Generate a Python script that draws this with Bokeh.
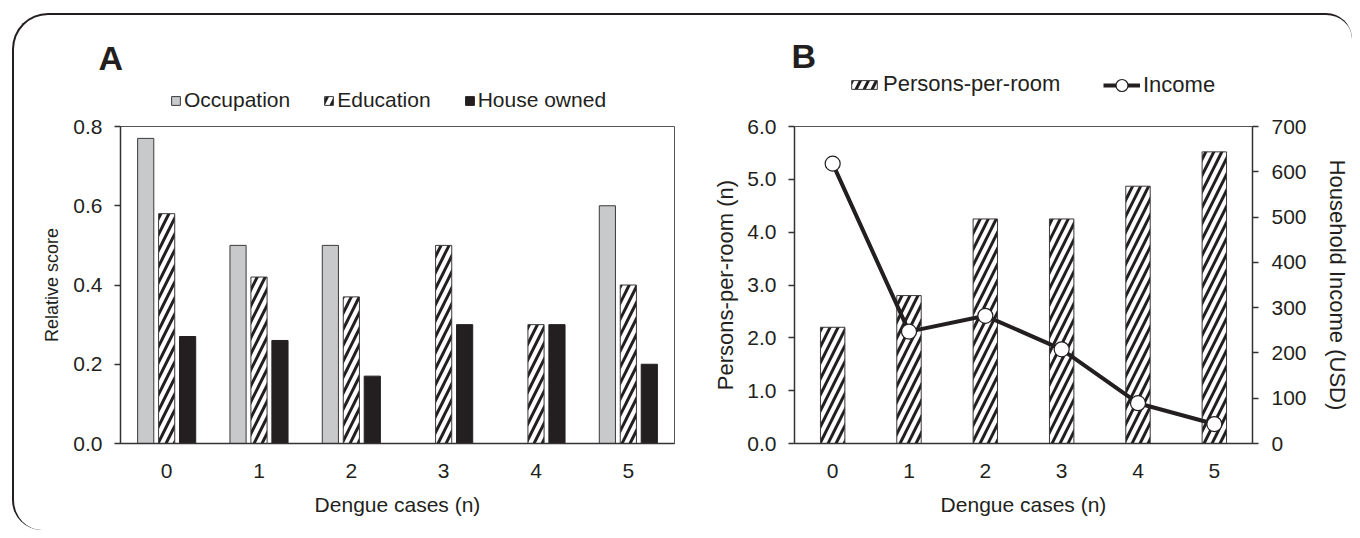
from bokeh.plotting import figure
from bokeh.models import (FactorRange, Range1d, LinearAxis, Legend, LegendItem, Label,
                          NumeralTickFormatter, FixedTicker, ColumnDataSource)
from bokeh.transform import dodge
from bokeh.layouts import row, column
from bokeh.embed import file_html
from bokeh.resources import INLINE

# ---------------- data ----------------
cases = ["0", "1", "2", "3", "4", "5"]
occupation = [0.77, 0.50, 0.50, 0.0, 0.0, 0.60]
education = [0.58, 0.42, 0.37, 0.50, 0.30, 0.40]
house_owned = [0.27, 0.26, 0.17, 0.30, 0.30, 0.20]
persons_per_room = [2.2, 2.8, 4.25, 4.25, 4.87, 5.52]
income = [618, 247, 282, 208, 89, 43]
score_ticks = [0.0, 0.2, 0.4, 0.6, 0.8]
ppr_ticks = [0, 1, 2, 3, 4, 5, 6]
income_ticks = [0, 100, 200, 300, 400, 500, 600, 700]

FONT = "Liberation Sans"
TXT = "#231f20"
AX = "#333333"

OCC = dict(fill_color="#c8c9cb", line_color="#3a3a3a", line_width=1)
EDU = dict(fill_color="white", line_color="#3a3a3a", line_width=1,
           hatch_pattern="/", hatch_color=TXT, hatch_weight=3, hatch_scale=16)
HOU = dict(fill_color=TXT, line_color=TXT, line_width=1)
PPR = dict(fill_color="white", line_color="#3a3a3a", line_width=1,
           hatch_pattern="/", hatch_color=TXT, hatch_weight=3, hatch_scale=16)
INC_LINE = dict(line_color=TXT, line_width=4)
INC_PT = dict(fill_color="white", line_color=TXT, line_width=1.2)


def style_axis(ax, label_size="21px", tick_size="21px"):
    ax.major_label_text_font = FONT
    ax.major_label_text_font_size = tick_size
    ax.major_label_text_color = TXT
    ax.axis_label_text_font = FONT
    ax.axis_label_text_font_size = label_size
    ax.axis_label_text_font_style = "normal"
    ax.axis_label_text_color = TXT
    ax.axis_line_color = AX
    ax.axis_line_width = 1.5
    ax.major_tick_line_color = AX
    ax.major_tick_line_width = 1.5
    ax.major_tick_in = 0
    ax.major_tick_out = 6
    ax.minor_tick_line_color = None


def legend(items, loc, gw, gh, lh, size):
    return Legend(items=items, orientation="horizontal", location=loc,
                  glyph_width=gw, glyph_height=gh, label_standoff=3, spacing=33,
                  padding=0, margin=0, border_line_color=None, background_fill_alpha=0,
                  label_text_font=FONT, label_text_font_size=size, label_text_color=TXT,
                  label_height=lh)


# ---------------- header (panel letters + legends) ----------------
hd = figure(width=1338, height=98, x_range=Range1d(0, 1), y_range=Range1d(0, 1),
            min_border=0, output_backend="svg", toolbar_location=None)
hd.axis.visible = False
hd.grid.visible = False
hd.outline_line_color = None
hd.background_fill_color = None
hd.border_fill_color = None

# legend-only renderers, kept outside the visible header range
hOcc = hd.vbar(x=[5], top=[5], bottom=[4], width=0.1, **OCC)
hEdu = hd.vbar(x=[5], top=[5], bottom=[4], width=0.1, **EDU)
hHou = hd.vbar(x=[5], top=[5], bottom=[4], width=0.1, **HOU)
hPpr = hd.vbar(x=[5], top=[5], bottom=[4], width=0.1, **PPR)
hIncL = hd.line(x=[5, 6], y=[5, 6], **INC_LINE)
hIncP = hd.scatter(x=[5], y=[5], size=15, **INC_PT)

hd.add_layout(legend([LegendItem(label="Occupation", renderers=[hOcc]),
                      LegendItem(label="Education", renderers=[hEdu]),
                      LegendItem(label="House owned", renderers=[hHou])],
                     (156, 1), 11, 11, 20, "21px"))
hd.add_layout(legend([LegendItem(label="Persons-per-room", renderers=[hPpr])],
                     (834, 16), 32, 11, 20, "22px"))
hd.add_layout(legend([LegendItem(label="Income", renderers=[hIncL, hIncP])],
                     (1089, 13), 37, 30, 30, "22px"))
hd.add_layout(Label(x=84, y=56, x_units="screen", y_units="screen", text="A",
                    text_font=FONT, text_font_size="34px", text_font_style="bold",
                    text_color=TXT, text_baseline="alphabetic"))
hd.add_layout(Label(x=777, y=58, x_units="screen", y_units="screen", text="B",
                    text_font=FONT, text_font_size="34px", text_font_style="bold",
                    text_color=TXT, text_baseline="alphabetic"))

# ---------------- panel A ----------------
pA = figure(x_range=FactorRange(factors=cases, range_padding=0), y_range=Range1d(0, 0.8),
            width=686, height=417, min_border_left=106, min_border_right=26,
            min_border_top=13, min_border_bottom=85,
            output_backend="svg", toolbar_location=None)
pA.grid.visible = False
pA.outline_line_color = "#555555"
pA.outline_line_width = 1
pA.background_fill_color = None
pA.border_fill_color = None

srcA = ColumnDataSource(dict(cases=cases, occupation=occupation,
                             education=education, house=house_owned))
pA.vbar(x=dodge("cases", -0.227, range=pA.x_range), top="occupation", width=0.175,
        source=srcA, **OCC)
pA.vbar(x=dodge("cases", 0.0, range=pA.x_range), top="education", width=0.175,
        source=srcA, **EDU)
pA.vbar(x=dodge("cases", 0.227, range=pA.x_range), top="house", width=0.175,
        source=srcA, **HOU)

style_axis(pA.yaxis[0], label_size="18px")
pA.yaxis[0].axis_label = "Relative score"
pA.yaxis[0].ticker = FixedTicker(ticks=score_ticks)
pA.yaxis[0].formatter = NumeralTickFormatter(format="0.0")
pA.yaxis[0].major_label_standoff = 12
pA.yaxis[0].axis_label_standoff = 8

style_axis(pA.xaxis[0])
pA.xaxis[0].axis_label = "Dengue cases (n)"
pA.xaxis[0].major_tick_line_color = None
pA.xaxis[0].major_label_standoff = 14
pA.xaxis[0].axis_label_standoff = 12

# ---------------- panel B ----------------
pB = figure(x_range=FactorRange(factors=cases, range_padding=0), y_range=Range1d(0, 6),
            width=652, height=417, min_border_left=94, min_border_right=94,
            min_border_top=12, min_border_bottom=87,
            output_backend="svg", toolbar_location=None)
pB.grid.visible = False
pB.outline_line_color = "#555555"
pB.outline_line_width = 1
pB.background_fill_color = None
pB.border_fill_color = None
pB.extra_y_ranges = {"inc": Range1d(0, 700)}

srcB = ColumnDataSource(dict(cases=cases, ppr=persons_per_room, income=income))
pB.vbar(x="cases", top="ppr", width=0.32, source=srcB, **PPR)
pB.line(x="cases", y="income", source=srcB, y_range_name="inc", **INC_LINE)
pB.scatter(x="cases", y="income", source=srcB, y_range_name="inc", size=15, **INC_PT)

style_axis(pB.yaxis[0], label_size="22px")
pB.yaxis[0].axis_label = "Persons-per-room (n)"
pB.yaxis[0].ticker = FixedTicker(ticks=ppr_ticks)
pB.yaxis[0].formatter = NumeralTickFormatter(format="0.0")
pB.yaxis[0].major_label_standoff = 12
pB.yaxis[0].axis_label_standoff = 6

axR = LinearAxis(y_range_name="inc", axis_label="Household Income (USD)",
                 ticker=FixedTicker(ticks=income_ticks))
style_axis(axR, label_size="22px")
axR.major_label_standoff = 13
axR.axis_label_standoff = 15
pB.add_layout(axR, "right")

style_axis(pB.xaxis[0])
pB.xaxis[0].axis_label = "Dengue cases (n)"
pB.xaxis[0].major_tick_line_color = None
pB.xaxis[0].major_label_standoff = 14
pB.xaxis[0].axis_label_standoff = 12

layout = column(hd, row(pA, pB), margin=(13, 0, 0, 12), styles={
    "border-left": "2px solid #231f20",
    "border-top": "2px solid #231f20",
    "border-top-left-radius": "36px",
    "border-top-right-radius": "26px",
    "border-bottom-left-radius": "30px",
})

open("out.html", "w").write(file_html(layout, INLINE))
